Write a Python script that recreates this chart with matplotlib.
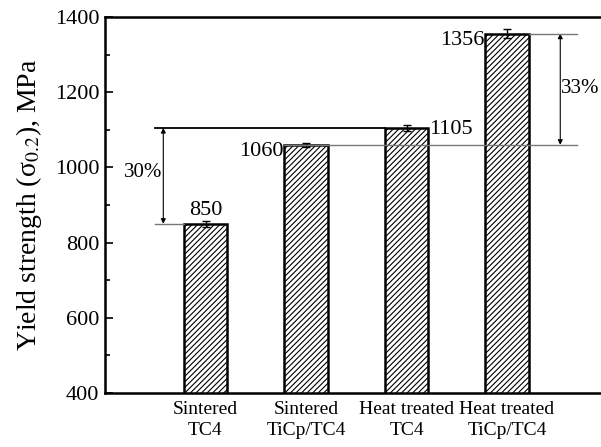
import matplotlib
matplotlib.use("Agg")
import matplotlib.pyplot as plt
import numpy as np

plt.rcParams['font.family'] = ['Liberation Serif', 'DejaVu Serif']
plt.rcParams['mathtext.fontset'] = 'stix'
plt.rcParams['hatch.linewidth'] = 0.8

categories = ["Sintered\nTC4", "Sintered\nTiCp/TC4", "Heat treated\nTC4", "Heat treated\nTiCp/TC4"]
values = [850, 1060, 1105, 1356]
errors = [8, 5, 8, 12]
labels = ["850", "1060", "1105", "1356"]
pct_left = "30%"
pct_right = "33%"

fig = plt.figure(figsize=(6.01, 4.47), dpi=100)
ax = fig.add_axes([105/601, 54/447, 502.5/601, 376/447])
x = np.arange(len(values))
ax.bar(x, values, width=0.43, bottom=0, color='white', edgecolor='black',
       linewidth=1.8, hatch='//////', zorder=2)
ax.errorbar(x, values, yerr=errors, fmt='none', ecolor='black', elinewidth=1,
            capsize=3, capthick=1, zorder=3)

ax.set_xlim(-1, 4)
ax.set_ylim(400, 1400)
ax.set_yticks([400, 600, 800, 1000, 1200, 1400])
ax.set_yticks([500, 700, 900, 1100, 1300], minor=True)
ax.set_xticks(x)
ax.set_xticklabels(categories, fontsize=14, linespacing=1.3)
ax.tick_params(axis='x', length=0, pad=6)
ax.tick_params(axis='y', which='major', direction='in', length=6, width=1.2, labelsize=16, pad=4)
ax.tick_params(axis='y', which='minor', direction='in', length=3.5, width=1.2)
for s in ax.spines.values():
    s.set_linewidth(1.8)
ax.set_ylabel("Yield strength (σ$_{0.2}$), MPa", fontsize=20, labelpad=8)

hw = 0.215
# reference lines
ax.plot([-0.5, 2 - hw], [values[2], values[2]], color='black', lw=1.3, zorder=4)
ax.plot([-0.5, 0 - hw], [values[0], values[0]], color='#777777', lw=1, zorder=4)
ax.plot([1 - hw, 3.7], [values[1], values[1]], color='#777777', lw=1, zorder=4)
ax.plot([3 + hw, 3.7], [values[3], values[3]], color='#777777', lw=1, zorder=4)

# double arrows
ax.annotate("", xy=(-0.42, values[0]), xytext=(-0.42, values[2]),
            arrowprops=dict(arrowstyle='<|-|>', color='black', lw=0.8,
                            mutation_scale=7, shrinkA=0, shrinkB=0))
ax.annotate("", xy=(3.53, values[1]), xytext=(3.53, values[3]),
            arrowprops=dict(arrowstyle='<|-|>', color='black', lw=0.8,
                            mutation_scale=7, shrinkA=0, shrinkB=0))
ax.text(-0.43, (values[0] + values[2]) / 2 + 10, pct_left, ha='right', va='center', fontsize=15)
ax.text(3.54, (values[1] + values[3]) / 2 + 2, pct_right, ha='left', va='center', fontsize=15)

# value labels
ax.text(0, values[0] + 10, labels[0], ha='center', va='bottom', fontsize=16)
ax.text(1 - hw - 0.005, values[1] + 8, labels[1], ha='right', va='top', fontsize=16)
ax.text(2 + hw + 0.01, values[2] - 5, labels[2], ha='left', va='center', fontsize=16)
ax.text(3 - hw - 0.005, values[3] + 6, labels[3], ha='right', va='top', fontsize=16)

fig.savefig("out.png", dpi=100)
